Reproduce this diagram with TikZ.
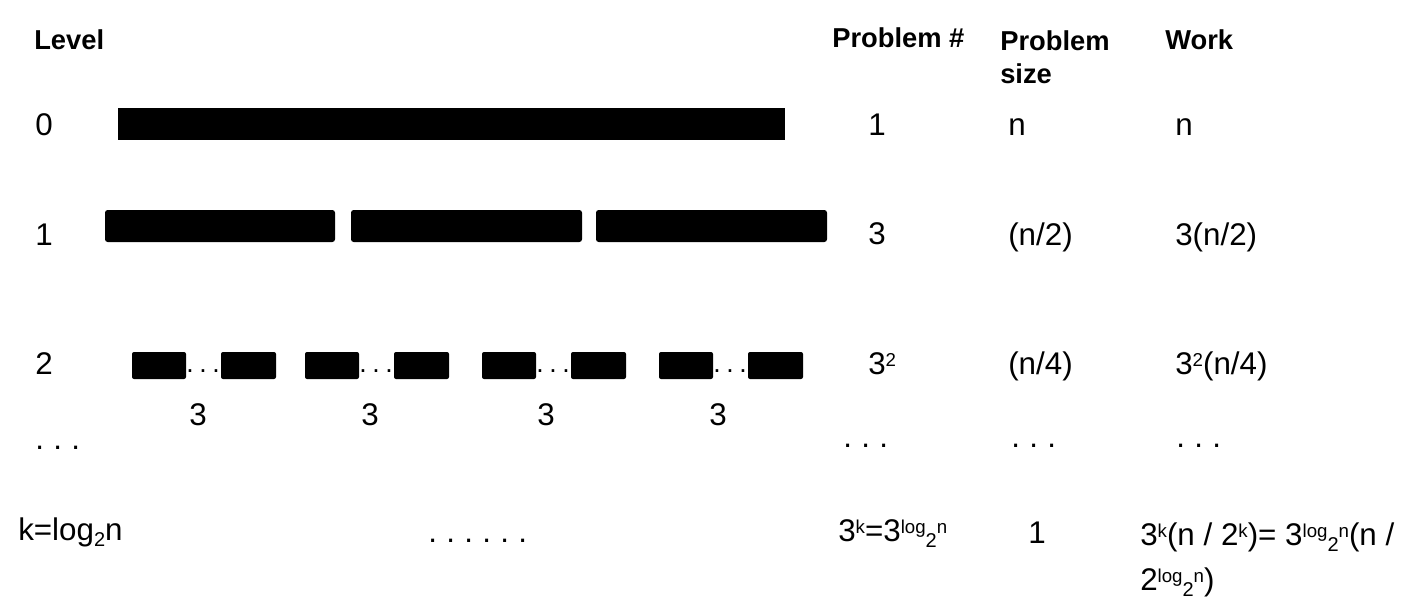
\documentclass[tikz,border=0pt]{standalone}
\usepackage{fontspec}
\setmainfont{Liberation Sans}
\newcommand{\supx}[1]{\raisebox{5.5pt}{\fontsize{14}{14}\selectfont #1}}
\newcommand{\subx}[1]{\raisebox{-4.5pt}{\fontsize{15}{15}\selectfont #1}}
\newcommand{\dotgap}{\kern7pt}
\begin{document}
\begin{tikzpicture}[x=0.75pt,y=-0.75pt,
    txt/.style={inner sep=0pt,anchor=base west,font=\fontsize{23.5}{28}\selectfont},
    head/.style={inner sep=0pt,anchor=base west,font=\fontsize{20.5}{24}\selectfont\bfseries},
    count/.style={inner sep=0pt,anchor=base,font=\fontsize{23.5}{28}\selectfont},
    smalldots/.style={inner sep=0pt,anchor=base,font=\fontsize{20}{20}\selectfont},
    bar/.style={fill=black,rounded corners=2pt},
    minibar/.style={fill=black,rounded corners=1.5pt}]
        \useasboundingbox (0,0) rectangle (1408,607);
        \node[head] (hlevel) at (34,49) {Level};
        \node[head] (hcount) at (832,47) {Problem \#};
        \node[head] (hsize) at (1000,50) {Problem};
        \node[head] (hsize2) at (1000,83) {size};
        \node[head] (hwork) at (1165,49) {Work};
        \fill (118,108) rectangle (785,140);
        \fill[bar] (105,210) rectangle (335,242);
        \fill[bar] (351,210) rectangle (582,242);
        \fill[bar] (596,210) rectangle (827,242);
        \foreach \s/\c/\i in {132/198/a,305/370/b,482/546/c,659/718/d} {
            \fill[minibar] (\s,352) rectangle ++(54,27);
            \fill[minibar] (\s+89,352) rectangle ++(55,27);
            \node[smalldots] (dots\i) at (\s+71,372) {.\kern4.2pt.\kern4.2pt.};
            \node[count] (three\i) at (\c,425) {3};
        }
        \node[txt] (l0) at (35,135) {0};
        \node[txt] (l1) at (35,245) {1};
        \node[txt] (l2) at (35,374) {2};
        \node[txt] (ldots) at (35,449) {.\dotgap.\dotgap.};
        \node[txt] (lk) at (18,540) {k=log\subx{2}n};
        \node[txt] (p0) at (868,135) {1};
        \node[txt] (p1) at (868,244) {3};
        \node[txt] (p2) at (868,374) {3\supx{2}};
        \node[txt] (pdots) at (843,447) {.\dotgap.\dotgap.};
        \node[txt] (pk) at (838,541) {3\supx{k}=3\supx{log}\subx{2}\supx{n}};
        \node[txt] (s0) at (1008,135) {n};
        \node[txt] (s1) at (1008,245) {(n/2)};
        \node[txt] (s2) at (1008,374) {(n/4)};
        \node[txt] (sdots) at (1011,447) {.\dotgap.\dotgap.};
        \node[txt] (sk) at (1028,543) {1};
        \node[txt] (w0) at (1175,135) {n};
        \node[txt] (w1) at (1175,245) {3(n/2)};
        \node[txt] (w2) at (1175,374) {3\supx{2}(n/4)};
        \node[txt] (wdots) at (1176,447) {.\dotgap.\dotgap.};
        \node[txt] (wk) at (1140,545) {3\supx{k}(n / 2\supx{k})= 3\supx{log}\subx{2}\supx{n}(n /};
        \node[txt] (wk2) at (1140,590) {2\supx{log}\subx{2}\supx{n})};
        \node[txt] (bdots) at (428,542) {.\dotgap.\dotgap.\dotgap.\dotgap.\dotgap.};
    \end{tikzpicture}
\end{document}
